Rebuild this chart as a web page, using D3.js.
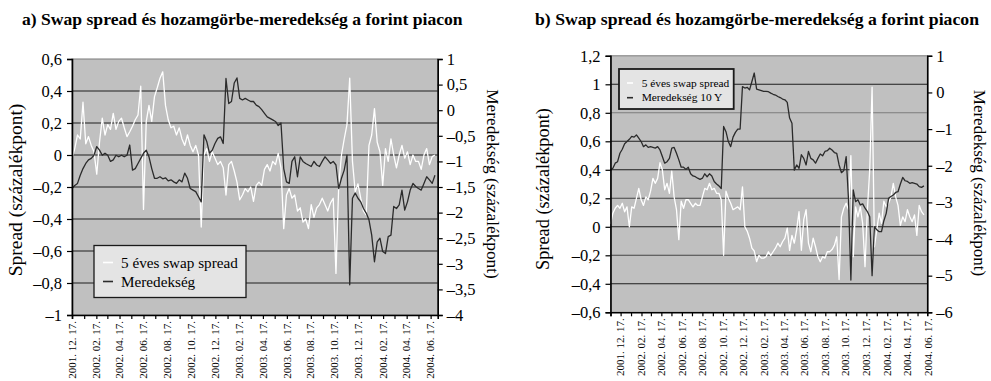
<!DOCTYPE html>
<html><head><meta charset="utf-8">
<script src="https://cdn.jsdelivr.net/npm/d3@7"></script>
<style>
body{margin:0;background:#fff}
svg{display:block}
text{font-family:"Liberation Serif","Times New Roman",serif;fill:#000}
</style>
</head><body>
<svg id="c" width="991" height="381"></svg>
<script>
// ---------- data ----------
const titleA = "a) Swap spread és hozamgörbe-meredekség a forint piacon";
const titleB = "b) Swap spread és hozamgörbe-meredekség a forint piacon";
const leftAxisTitle = "Spread (százalékpont)";
const rightAxisTitle = "Meredekség (százalékpont)";
const legendA = ["5 éves swap spread", "Meredekség"];
const legendB = ["5 éves swap spread", "Meredekség 10 Y"];

const xTickLabels = ["2001. 12. 17.","2002. 02. 17.","2002. 04. 17.","2002. 06. 17.","2002. 08. 17.","2002. 10. 17.","2002. 12. 17.","2003. 02. 17.","2003. 04. 17.","2003. 06. 17.","2003. 08. 17.","2003. 10. 17.","2003. 12. 17.","2004. 02. 17.","2004. 04. 17.","2004. 06. 17."];
const aLeftTicks  = ["0,6","0,4","0,2","0","–0,2","–0,4","–0,6","–0,8","–1"];
const aRightTicks = ["1","0,5","0","–0,5","–1","–1,5","–2","–2,5","–3","–3,5","–4"];
const bLeftTicks  = ["1,2","1","0,8","0,6","0,4","0,2","0","–0,2","–0,4","–0,6"];
const bRightTicks = ["1","0","–1","–2","–3","–4","–5","–6"];

// weekly observations
const aStart = "2001-12-17", aEnd = "2004-07-05";
const bStart = "2001-11-17", bEnd = "2004-06-15";
const stepDays = 7;

const aSpread = [-0.02,0.04,0.125,0.10,0.33,0.07,0.115,0.06,0.02,-0.12,
 0.08,0.23,0.125,0.19,0.16,0.26,0.16,0.21,0.23,0.17,
 0.115,0.145,0.18,0.22,0.25,0.43,-0.34,0.21,0.31,0.21,
 0.365,0.42,0.48,0.52,0.31,0.22,0.17,0.18,0.125,0.17,
 0.10,0.06,0.125,0.06,0.02,0.06,0.0,-0.45,0.0,0.04,
 -0.04,0.02,-0.02,-0.06,-0.04,-0.08,-0.25,-0.06,-0.04,-0.10,
 -0.17,-0.28,-0.25,-0.21,-0.23,-0.20,-0.29,-0.19,-0.17,-0.19,
 -0.09,-0.06,-0.10,-0.04,-0.06,0.01,-0.08,-0.46,-0.25,-0.21,
 -0.27,-0.25,-0.35,-0.33,-0.42,-0.40,-0.46,-0.31,-0.39,-0.33,
 -0.31,-0.27,-0.31,-0.35,-0.30,-0.27,-0.74,-0.19,0.0,0.10,
 0.19,0.48,-0.04,-0.23,-0.18,-0.27,-0.35,-0.375,0.06,0.125,
 0.29,0.08,0.02,-0.19,0.04,-0.04,0.10,0.0,-0.08,0.0,
 0.06,-0.02,0.02,-0.06,0.0,-0.04,-0.04,-0.09,0.0,0.04,
 -0.06,-0.01,0.0];

const aSlope = [-1.53,-1.47,-1.43,-1.27,-1.14,-1.04,-0.97,-0.94,-0.88,-0.71,
 -0.78,-0.88,-0.84,-0.88,-1.00,-0.97,-0.88,-0.91,-0.88,-0.91,
 -0.88,-0.68,-1.17,-1.14,-1.04,-0.94,-0.84,-0.78,-0.91,-1.14,
 -1.33,-1.33,-1.30,-1.34,-1.32,-1.38,-1.36,-1.40,-1.43,-1.36,
 -1.40,-1.23,-1.33,-1.53,-1.56,-1.59,-1.69,-1.79,-0.48,-0.61,
 -0.84,-0.78,-0.65,-0.55,-0.52,-0.65,0.62,0.13,0.17,0.53,
 0.63,0.23,0.20,0.23,0.20,0.17,0.17,0.10,0.07,0.01,
 -0.06,-0.13,-0.16,-0.19,-0.22,-0.30,-0.25,-1.14,-1.40,-1.43,
 -1.00,-0.91,-1.30,-0.91,-1.00,-1.04,-1.07,-1.10,-1.00,-1.07,
 -1.10,-1.00,-0.91,-0.97,-1.04,-1.00,-1.07,-1.53,-1.33,-1.17,
 -0.88,-3.41,-1.72,-1.62,-1.72,-1.79,-1.92,-2.01,-2.14,-2.44,
 -2.96,-2.57,-2.50,-2.76,-2.80,-2.47,-2.44,-1.88,-1.92,-1.85,
 -1.56,-1.95,-1.79,-1.56,-1.43,-1.49,-1.53,-1.56,-1.43,-1.30,
 -1.36,-1.43,-1.27];

const bSpread = [0.02,0.095,0.13,0.15,0.13,0.165,0.105,0.14,0.0,0.14,
 0.13,0.20,0.27,0.19,0.15,0.21,0.19,0.25,0.34,0.305,
 0.34,0.45,0.40,0.26,0.305,0.235,0.39,0.21,0.12,-0.09,
 0.18,0.13,0.19,0.19,0.165,0.14,0.165,0.15,0.15,0.21,
 0.27,0.26,0.305,0.26,0.27,0.235,0.235,0.19,-0.20,0.25,
 0.20,0.165,0.12,0.13,0.14,0.12,0.28,0.0,-0.03,-0.08,
 -0.15,-0.17,-0.245,-0.20,-0.22,-0.22,-0.21,-0.175,-0.20,-0.175,
 -0.15,-0.115,-0.14,-0.105,-0.08,-0.01,-0.165,-0.06,-0.115,-0.02,
 0.106,-0.165,0.05,0.12,-0.115,-0.175,-0.08,-0.14,-0.21,-0.245,
 -0.21,-0.22,-0.175,-0.175,-0.16,-0.13,-0.07,-0.37,0.07,0.13,
 0.165,0.12,0.50,-0.21,0.14,0.07,0.14,0.024,-0.28,0.12,
 0.40,0.98,-0.14,-0.02,0.095,0.024,0.18,0.14,0.165,0.21,
 0.305,0.21,0.15,0.01,0.07,0.036,0.12,0.07,0.036,0.083,
 -0.06,0.15,0.106,0.083];

const bSlope = [-2.12,-2.07,-1.93,-1.89,-1.66,-1.55,-1.40,-1.34,-1.28,-1.20,
 -1.22,-1.16,-1.25,-1.34,-1.48,-1.43,-1.50,-1.48,-1.50,-1.52,
 -1.48,-1.57,-1.75,-1.93,-1.89,-1.80,-1.52,-1.50,-1.66,-1.84,
 -2.04,-2.04,-2.10,-2.04,-2.22,-2.28,-2.30,-2.34,-2.37,-2.34,
 -2.22,-2.30,-2.22,-2.28,-2.43,-2.50,-2.55,-2.62,-0.93,-1.07,
 -1.34,-1.48,-1.22,-1.09,-1.00,-1.00,0.16,0.12,0.14,0.07,
 0.30,0.53,0.09,0.07,0.05,0.03,0.03,0.02,-0.02,-0.05,
 -0.07,-0.11,-0.14,-0.18,-0.20,-0.27,-0.70,-0.84,-2.12,-1.98,
 -2.07,-1.70,-1.80,-1.98,-1.61,-1.80,-1.84,-1.93,-1.80,-1.68,
 -1.73,-1.61,-1.59,-1.52,-1.57,-1.64,-1.66,-1.98,-2.19,-2.13,
 -1.75,-2.93,-5.12,-2.66,-2.98,-2.93,-3.07,-3.04,-3.16,-3.25,
 -3.39,-5.00,-3.66,-3.75,-3.80,-3.80,-3.50,-3.30,-2.89,-2.84,
 -2.80,-2.73,-2.71,-2.50,-2.32,-2.41,-2.43,-2.48,-2.46,-2.48,
 -2.50,-2.57,-2.59,-2.55];

// ---------- helpers ----------
const num = s => +s.replace("–","-").replace(",",".");
const parseISO = d3.timeParse("%Y-%m-%d");
const parseLabel = s => { const p = s.split(".").map(t => t.trim()).filter(t => t); return new Date(+p[0], +p[1]-1, +p[2]); };
const svg = d3.select("#c");

function panel(cfg){
  const start = parseISO(cfg.start), end = parseISO(cfg.end);
  const x = d3.scaleTime().domain([start, end]).range([cfg.x0, cfg.x1]);
  const yl = d3.scaleLinear().domain(d3.extent(cfg.leftTicks.map(num))).range([cfg.y1, cfg.y0]);
  const yr = d3.scaleLinear().domain(d3.extent(cfg.rightTicks.map(num))).range([cfg.y1, cfg.y0]);
  const g = svg.append("g");

  // plot background
  g.append("rect").attr("x", cfg.x0).attr("y", cfg.y0)
    .attr("width", cfg.x1 - cfg.x0).attr("height", cfg.y1 - cfg.y0)
    .attr("fill", "#c0c0c0").attr("stroke", "#7a7a7a").attr("stroke-width", 1);

  // gridlines
  const gridVals = cfg.leftTicks.map(num).filter(v => v > yl.domain()[0] && v < yl.domain()[1]);
  g.selectAll(".grid").data(gridVals).join("line")
    .attr("x1", cfg.x0).attr("x2", cfg.x1)
    .attr("y1", d => yl(d)).attr("y2", d => yl(d))
    .attr("stroke", (d,i) => cfg.gridColor(d,i)).attr("stroke-width", 1.1);

  // series
  const dates = cfg.spread.map((_, i) => d3.timeDay.offset(start, i * stepDays));
  const lineL = d3.line().x((d,i) => x(dates[i])).y(d => yl(d));
  const lineR = d3.line().x((d,i) => x(dates[i])).y(d => yr(d));
  g.append("path").datum(cfg.spread).attr("d", lineL)
    .attr("fill", "none").attr("stroke", "#ffffff").attr("stroke-width", 1.3).attr("stroke-linejoin","round");
  g.append("path").datum(cfg.slope).attr("d", lineR)
    .attr("fill", "none").attr("stroke", "#2b2b2b").attr("stroke-width", 1.3).attr("stroke-linejoin","round");

  // axes
  const fmtL = d => cfg.leftTicks.find(s => num(s) === d);
  const fmtR = d => cfg.rightTicks.find(s => num(s) === d);
  const axL = g.append("g").attr("transform", `translate(${cfg.x0},0)`)
    .call(d3.axisLeft(yl).tickValues(cfg.leftTicks.map(num)).tickFormat(fmtL).tickSize(5).tickPadding(cfg.padL));
  const axR = g.append("g").attr("transform", `translate(${cfg.x1},0)`)
    .call(d3.axisRight(yr).tickValues(cfg.rightTicks.map(num)).tickFormat(fmtR).tickSize(5).tickPadding(cfg.padR));

  const months = d3.timeMonth.range(d3.timeMonth.floor(start), end)
    .map(m => d3.timeDay.offset(m, 16)).filter(d => d >= start && d <= end);
  const axB = g.append("g").attr("transform", `translate(0,${cfg.y1})`)
    .call(d3.axisBottom(x).tickValues(months).tickFormat("").tickSize(4).tickSizeOuter(4));

  [axL, axR, axB].forEach(a => {
    a.select(".domain").attr("stroke", "#000").attr("stroke-width", 1.6);
    a.selectAll(".tick line").attr("stroke", "#000").attr("stroke-width", 1.2);
    a.selectAll("text").attr("font-family", '"Liberation Serif","Times New Roman",serif')
      .attr("font-size", cfg.tickFont).attr("fill", "#000");
  });

  // x labels
  g.selectAll(".xl").data(xTickLabels).join("text")
    .attr("transform", d => `translate(${x(parseLabel(d))},${cfg.y1 + 6}) rotate(-90)`)
    .attr("text-anchor", "end").attr("dy", "0.33em")
    .attr("font-size", cfg.xFont).attr("fill", "#222").text(d => d);

  // title
  svg.append("text").attr("x", cfg.titleX).attr("y", 25)
    .attr("font-size", cfg.titleFont).attr("font-weight", "bold").text(cfg.title);

  // axis titles
  svg.append("text").attr("transform", `translate(${cfg.lTitleX},${cfg.lTitleY}) rotate(-90)`)
    .attr("text-anchor", "middle").attr("dy", "0.33em").attr("font-size", cfg.lTitleFont).text(leftAxisTitle);
  svg.append("text").attr("transform", `translate(${cfg.rTitleX},${cfg.rTitleY}) rotate(90)`)
    .attr("text-anchor", "middle").attr("dy", "0.33em").attr("font-size", cfg.rTitleFont).text(rightAxisTitle);

  // legend
  const L = cfg.legend;
  const lg = svg.append("g");
  lg.append("rect").attr("x", L.x).attr("y", L.y).attr("width", L.w).attr("height", L.h)
    .attr("fill", "#e4e4e4").attr("stroke", "#1a1a1a").attr("stroke-width", L.sw);
  cfg.legendText.forEach((t, i) => {
    const yy = L.y + L.first + i * L.gap;
    lg.append("line").attr("x1", L.x + L.lx0).attr("x2", L.x + L.lx1).attr("y1", yy).attr("y2", yy)
      .attr("stroke", i === 0 ? "#ffffff" : "#2b2b2b").attr("stroke-width", 1.6);
    lg.append("text").attr("x", L.x + L.tx).attr("y", yy).attr("dy", "0.33em")
      .attr("font-size", L.font).text(t);
  });
}

panel({
  start: aStart, end: aEnd, spread: aSpread, slope: aSlope,
  x0: 72, x1: 437.7, y0: 59, y1: 315,
  leftTicks: aLeftTicks, rightTicks: aRightTicks, padL: 5, padR: 4,
  tickFont: 16.5, xFont: 11,
  gridColor: () => "#1e1e1e",
  title: titleA, titleX: 22, titleFont: 17.6,
  lTitleX: 16, lTitleY: 190, lTitleFont: 19.5,
  rTitleX: 493, rTitleY: 184, rTitleFont: 17.3,
  legendText: legendA,
  legend: {x: 94, y: 245.5, w: 152, h: 52, sw: 1.3, first: 17, gap: 19, lx0: 9, lx1: 19, tx: 27, font: 15.2}
});

panel({
  start: bStart, end: bEnd, spread: bSpread, slope: bSlope,
  x0: 610.5, x1: 927.3, y0: 55.8, y1: 312.3,
  leftTicks: bLeftTicks, rightTicks: bRightTicks, padL: 5, padR: 4,
  tickFont: 16.5, xFont: 11,
  gridColor: d => (Math.abs(d - 0.8) < 1e-9 ? "#7c7c7c" : (Math.abs(Math.abs(d) - 0.2) < 1e-9 ? "#444" : "#1e1e1e")),
  title: titleB, titleX: 535, titleFont: 17.7,
  lTitleX: 543, lTitleY: 189, lTitleFont: 18.3,
  rTitleX: 980, rTitleY: 183, rTitleFont: 17,
  legendText: legendB,
  legend: {x: 619, y: 69, w: 114.7, h: 40, sw: 1.8, first: 14, gap: 14.7, lx0: 8, lx1: 14, tx: 22.7, font: 11.4}
});
</script>
</body></html>
